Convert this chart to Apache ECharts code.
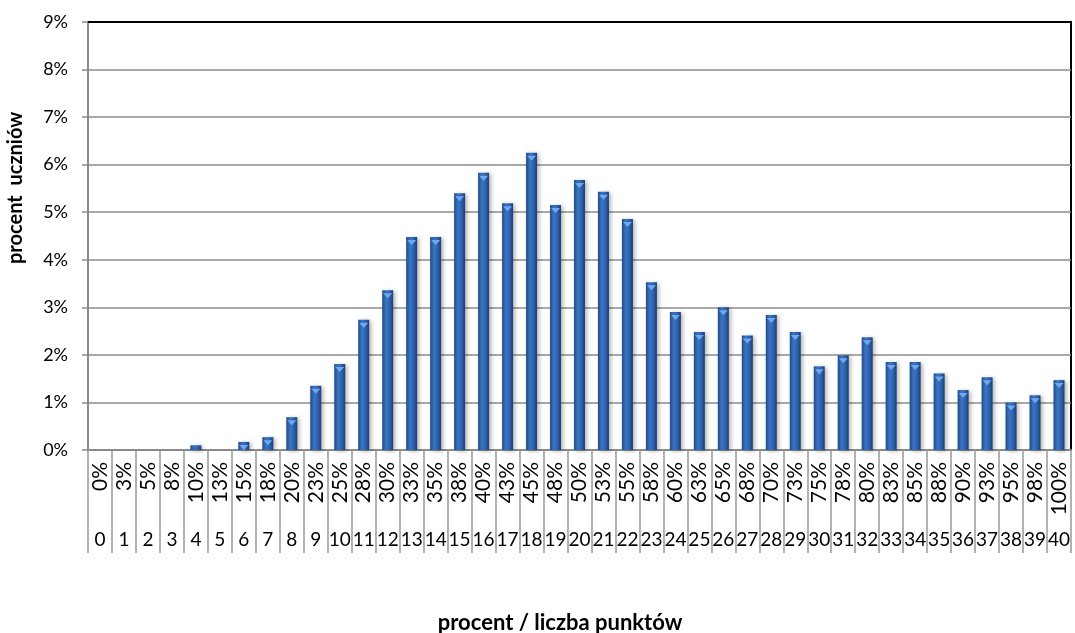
<!DOCTYPE html>
<html>
<head>
<meta charset="utf-8">
<script src="https://cdn.jsdelivr.net/npm/echarts@6/dist/echarts.min.js"></script>
<style>
html,body{margin:0;padding:0;background:#fff;}
#c{width:1075px;height:633px;}
</style>
</head>
<body>
<div id="c"></div>
<script>
// Data
const percentLabels = ['0%','3%','5%','8%','10%','13%','15%','18%','20%','23%','25%','28%','30%','33%','35%','38%','40%','43%','45%','48%','50%','53%','55%','58%','60%','63%','65%','68%','70%','73%','75%','78%','80%','83%','85%','88%','90%','93%','95%','98%','100%'];
const pointLabels = ['0','1','2','3','4','5','6','7','8','9','10','11','12','13','14','15','16','17','18','19','20','21','22','23','24','25','26','27','28','29','30','31','32','33','34','35','36','37','38','39','40'];
const studentPercent = [0,0,0,0,0.1,0,0.17,0.27,0.69,1.35,1.81,2.74,3.36,4.48,4.48,5.40,5.83,5.19,6.25,5.15,5.68,5.43,4.86,3.53,2.90,2.48,3.00,2.41,2.84,2.48,1.76,1.99,2.37,1.85,1.85,1.61,1.26,1.53,1.00,1.15,1.47];
const yTicks = [0,1,2,3,4,5,6,7,8,9];

const FONT = 'Lato, "Noto Sans", sans-serif';
const yMax = yTicks[yTicks.length-1];
const chart = echarts.init(document.getElementById('c'), null, {renderer:'canvas'});
chart.setOption({
  animation:false,
  backgroundColor:'#ffffff',
  grid:{left:88,right:4,top:22,bottom:183,show:true,borderColor:'#000',borderWidth:2,backgroundColor:'transparent'},
  xAxis:[{
    type:'category',data:percentLabels,position:'bottom',
    axisLine:{show:true,onZero:false,lineStyle:{color:'#8a8a8a',width:2}},
    axisTick:{show:true,length:63,interval:0,lineStyle:{color:'#999',width:1.5}},
    axisLabel:{interval:0,rotate:90,margin:12,fontSize:21,color:'#000',fontFamily:FONT}
  },{
    type:'category',data:pointLabels,position:'bottom',offset:63,
    axisLine:{show:false,onZero:false},
    axisTick:{show:true,length:40,interval:0,lineStyle:{color:'#999',width:1.5}},
    axisLabel:{interval:0,margin:17,fontSize:19,color:'#000',fontFamily:FONT}
  }],
  yAxis:{
    type:'value',min:yTicks[0],max:yMax,interval:1,
    axisLine:{show:true,lineStyle:{color:'#8a8a8a',width:2}},
    axisTick:{show:true,length:6,lineStyle:{color:'#8a8a8a',width:1.5}},
    splitLine:{show:true,lineStyle:{color:'#8c8c8c',width:1.5}},
    axisLabel:{formatter:'{value}%',margin:20,fontSize:18,color:'#000',fontFamily:FONT}
  },
  series:[{
    type:'bar',xAxisIndex:0,yAxisIndex:0,data:studentPercent,barWidth:11,
    itemStyle:{
      color:new echarts.graphic.LinearGradient(0,0,1,0,[
        {offset:0,color:'#1d4b88'},{offset:0.35,color:'#3a74c4'},{offset:0.6,color:'#3468b3'},{offset:1,color:'#1a4078'}
      ]),
      shadowBlur:4,shadowColor:'rgba(0,0,0,0.3)',shadowOffsetX:2,shadowOffsetY:1
    },
    markLine:{silent:true,symbol:'none',label:{show:false},
      lineStyle:{color:'#000',width:2,type:'solid'},data:[{yAxis:yMax}]}
  },{
    type:'pictorialBar',xAxisIndex:0,yAxisIndex:0,
    data:studentPercent.map(v => v > 0.15 ? v : '-'),
    symbol:'triangle',symbolRotate:180,symbolSize:[9,5],symbolPosition:'end',symbolOffset:[0,'60%'],
    itemStyle:{color:'#6fa8ec'},z:3,silent:true
  }],
  graphic:[
    {type:'text',x:560,y:612,style:{text:'procent / liczba punktów',align:'center',font:'bold 22px '+FONT,fill:'#000'}},
    {type:'text',rotation:Math.PI/2,x:6,y:264,style:{text:'procent  uczniów',font:'bold 20px '+FONT,fill:'#000',textVerticalAlign:'top'}}
  ]
});
</script>
</body>
</html>
